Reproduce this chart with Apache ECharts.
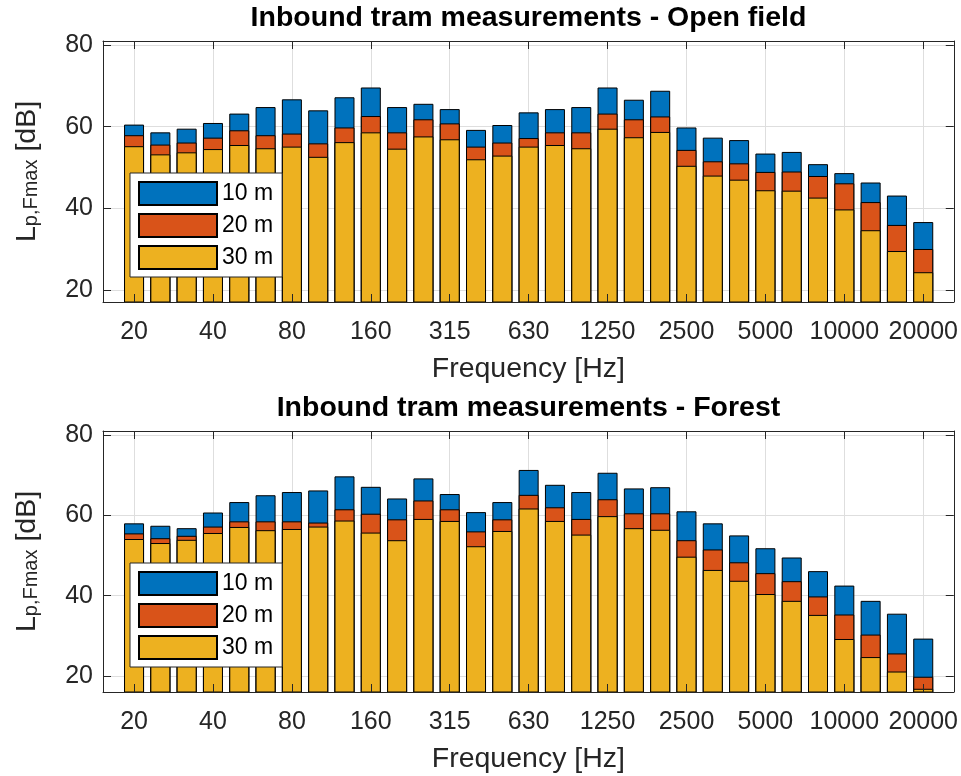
<!DOCTYPE html>
<html>
<head>
<meta charset="utf-8">
<script src="https://cdn.jsdelivr.net/npm/echarts@6/dist/echarts.min.js"></script>
<style>
  html, body { margin: 0; padding: 0; background: #fff; }
  #chart { width: 961px; height: 776px; }
</style>
</head>
<body>
<div id="chart"></div>
<script>
// One-third octave band centre frequencies [Hz]
const bands = ['20','25','31.5','40','50','63','80','100','125','160','200','250','315','400','500',
  '630','800','1000','1250','1600','2000','2500','3150','4000','5000','6300','8000','10000','12500','16000','20000'];
const tickLabels = ['20','40','80','160','315','630','1250','2500','5000','10000','20000'];
const yTicks = [20, 40, 60, 80];
const seriesNames = ['10 m', '20 m', '30 m'];
const panelTitles = ['Inbound tram measurements - Open field', 'Inbound tram measurements - Forest'];

// L_p,Fmax [dB] per band, open field
const openField10 = [60.5,58.6,59.5,60.9,63.2,64.8,66.7,64.0,67.2,69.6,64.8,65.6,64.3,59.2,60.4,
  63.5,64.3,64.8,69.6,66.6,68.8,59.8,57.3,56.7,53.4,53.8,50.8,48.6,46.3,43.1,36.6];
const openField20 = [57.9,55.6,56.1,57.3,59.1,57.9,58.3,55.9,59.8,62.6,58.6,61.8,60.8,55.1,56.1,
  57.2,58.6,58.6,63.2,61.8,62.5,54.3,51.5,51.0,48.9,49.0,47.9,46.1,41.5,35.9,30.0];
const openField30 = [55.2,53.2,53.7,54.5,55.5,54.7,55.1,52.6,56.2,58.6,54.6,57.6,56.9,52.0,52.9,
  55.1,55.5,54.7,59.5,57.4,58.7,50.4,48.0,47.0,44.4,44.3,42.6,39.7,34.6,29.5,24.3];

// L_p,Fmax [dB] per band, forest
const forest10 = [58.0,57.4,56.8,60.7,63.3,65.0,65.8,66.2,69.7,67.1,64.2,69.2,65.3,60.8,63.3,
  71.3,67.6,65.8,70.6,66.7,67.0,61.0,58.0,55.0,51.8,49.5,46.1,42.5,38.7,35.5,29.3];
const forest20 = [55.5,54.3,54.9,57.2,58.5,58.5,58.5,58.2,61.5,60.4,59.0,63.7,61.5,56.0,59.0,
  65.1,62.0,59.1,64.0,60.5,60.5,53.8,51.5,48.3,45.6,43.6,39.8,35.3,30.3,25.6,19.8];
const forest30 = [54.1,53.1,53.9,55.6,57.1,56.3,56.6,57.2,58.7,55.7,53.8,59.1,58.6,52.3,56.1,
  61.7,58.6,55.2,59.8,56.8,56.4,49.7,46.4,43.7,40.4,38.7,35.2,29.2,24.7,21.1,16.8];

const panelData = [[openField10, openField20, openField30], [forest10, forest20, forest30]];
const yMins = [17, 16];
const yMax = 81;

const colors = ['#0072BD', '#D95319', '#EDB120'];
const axisColor = '#262626';
const gridColor = '#dedede';
const fontFamily = '"Liberation Sans", Arial, Helvetica, sans-serif';

const xTickPos = tickLabels.map(l => bands.indexOf(l) + 1);
const xMin = -0.18, xMax = 32.16;

const chart = echarts.init(document.getElementById('chart'), null, { renderer: 'canvas' });

const grids = [], xAxes = [], yAxes = [], series = [], titles = [], legends = [];
const gridTops = [41, 431];

gridTops.forEach((top, g) => {
  grids.push({ left: 103, top: top, width: 851, height: 261 });

  titles.push({
    text: panelTitles[g], left: 528.5, top: top - 37, textAlign: 'center', padding: 0,
    textStyle: { fontFamily, fontSize: 28.5, fontWeight: 'bold', color: '#000' }
  });

  const xBase = { type: 'value', gridIndex: g, min: xMin, max: xMax };
  // labels, name and grid lines (behind bars)
  xAxes.push(Object.assign({}, xBase, {
    position: 'bottom', z: 0,
    axisLine: { show: false }, axisTick: { show: false, customValues: xTickPos },
    axisLabel: { customValues: xTickPos, formatter: v => bands[Math.round(v) - 1],
      fontFamily, fontSize: 25, color: axisColor, margin: 18 },
    splitLine: { show: true, lineStyle: { color: gridColor, width: 1 } },
    name: 'Frequency [Hz]', nameLocation: 'middle', nameGap: 53,
    nameTextStyle: { fontFamily, fontSize: 28.5, color: axisColor }
  }));
  // box line and inward ticks on top of bars
  [ 'bottom', 'top' ].forEach(pos => xAxes.push(Object.assign({}, xBase, {
    position: pos, z: 10,
    axisLine: { show: true, onZero: false, lineStyle: { color: axisColor, width: 1 } },
    axisTick: { show: true, inside: true, length: 8, customValues: xTickPos, lineStyle: { color: axisColor } },
    axisLabel: { show: false }, splitLine: { show: false }
  })));

  const yBase = { type: 'value', gridIndex: g, min: yMins[g], max: yMax };
  yAxes.push(Object.assign({}, yBase, {
    position: 'left', z: 0,
    axisLine: { show: false }, axisTick: { show: false, customValues: yTicks },
    axisLabel: { customValues: yTicks, fontFamily, fontSize: 25, color: axisColor, margin: 10 },
    splitLine: { show: true, lineStyle: { color: gridColor, width: 1 } },
    name: '{l|L}{s|p,Fmax}{l| [dB]}', nameLocation: 'middle', nameGap: 62,
    nameTextStyle: {
      fontFamily, color: axisColor,
      rich: {
        l: { fontFamily, fontSize: 28.5, lineHeight: 28, color: axisColor, verticalAlign: 'top' },
        s: { fontFamily, fontSize: 20, lineHeight: 20, color: axisColor, verticalAlign: 'bottom', padding: [13, 0, 0, 0] }
      }
    }
  }));
  [ 'left', 'right' ].forEach(pos => yAxes.push(Object.assign({}, yBase, {
    position: pos, z: 10,
    axisLine: { show: true, onZero: false, lineStyle: { color: axisColor, width: 1 } },
    axisTick: { show: true, inside: true, length: 8, customValues: yTicks, lineStyle: { color: axisColor } },
    axisLabel: { show: false }, splitLine: { show: false }
  })));

  panelData[g].forEach((vals, k) => {
    series.push({
      type: 'bar', name: seriesNames[k],
      xAxisIndex: g * 3, yAxisIndex: g * 3,
      data: vals.map((v, i) => [i + 1, v]),
      barWidth: 20, barGap: '-100%', clip: true,
      itemStyle: { color: colors[k], borderColor: '#000', borderWidth: 1 },
      emphasis: { disabled: true }
    });
  });

  legends.push({
    left: 130, top: top + 132, orient: 'vertical',
    data: seriesNames, icon: 'rect',
    itemWidth: 78, itemHeight: 23, itemGap: 7,
    padding: [8, 9, 7, 8],
    backgroundColor: '#fff', borderColor: axisColor, borderWidth: 1,
    selectedMode: false,
    textStyle: { fontFamily, fontSize: 23, lineHeight: 23, color: '#000' }
  });
});

chart.setOption({
  animation: false,
  color: colors,
  title: titles,
  legend: legends,
  grid: grids,
  xAxis: xAxes,
  yAxis: yAxes,
  series: series
});
</script>
</body>
</html>
